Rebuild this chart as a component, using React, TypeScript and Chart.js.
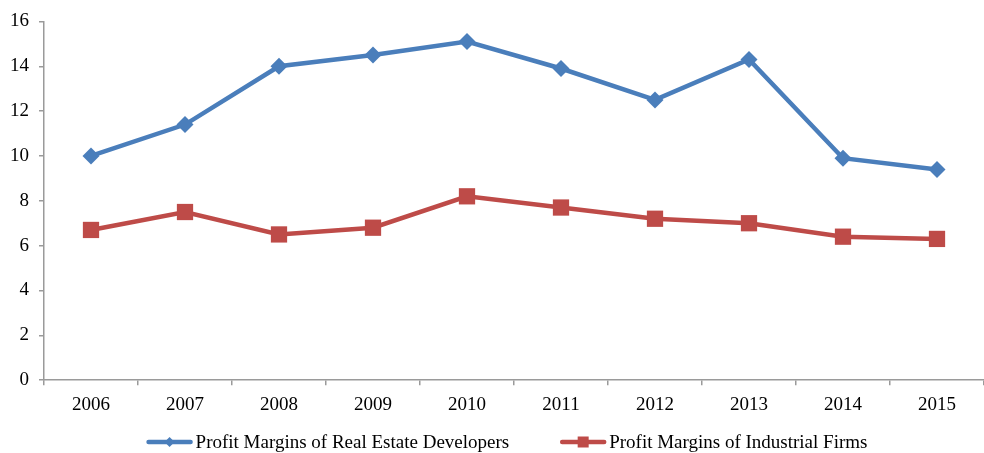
import React, { useEffect, useRef } from "react";
import { Chart, registerables } from "chart.js";

Chart.register(...registerables);

const years = ["2006", "2007", "2008", "2009", "2010", "2011", "2012", "2013", "2014", "2015"];
const realEstate = [10.0, 11.4, 14.0, 14.5, 15.1, 13.9, 12.5, 14.3, 9.9, 9.4];
const industrial = [6.7, 7.5, 6.5, 6.8, 8.2, 7.7, 7.2, 7.0, 6.4, 6.3];
const seriesNames = ["Profit Margins of Real Estate Developers", "Profit Margins of Industrial Firms"];

const BLUE = "#4A7EBB";
const RED = "#BE4B48";
const AXIS = "#9a9a9a";
const FONT = '"Liberation Serif", "Times New Roman", serif';
const FONT_SIZE = 19;

const legendPlugin = {
  id: "customLegend",
  afterDraw(chart: any) {
    const ctx = chart.ctx as CanvasRenderingContext2D;
    ctx.save();
    ctx.font = `${FONT_SIZE}px ${FONT}`;
    const lineLen = 46;
    const gapText = 3;
    const itemGap = 51;
    const items = chart.data.datasets.map((ds: any) => ({ ds, w: ctx.measureText(ds.label).width }));
    const total =
      items.reduce((s: number, it: any) => s + lineLen + gapText + it.w, 0) + itemGap * (items.length - 1);
    let x = (chart.chartArea.left + chart.chartArea.right) / 2 - total / 2 - 7;
    const y = chart.height - 11;
    items.forEach((it: any) => {
      const ds = it.ds;
      ctx.strokeStyle = ds.borderColor;
      ctx.lineWidth = 4.5;
      ctx.lineCap = "round";
      ctx.beginPath();
      ctx.moveTo(x + 2, y);
      ctx.lineTo(x + lineLen - 2, y);
      ctx.stroke();
      const cx = x + lineLen / 2;
      ctx.fillStyle = ds.borderColor;
      ctx.beginPath();
      if (ds.pointStyle === "rectRot") {
        const r = 5;
        ctx.moveTo(cx, y - r);
        ctx.lineTo(cx + r, y);
        ctx.lineTo(cx, y + r);
        ctx.lineTo(cx - r, y);
        ctx.closePath();
      } else {
        const s = 5.5;
        ctx.rect(cx - s, y - s, 2 * s, 2 * s);
      }
      ctx.fill();
      ctx.fillStyle = "#000";
      ctx.textBaseline = "middle";
      ctx.textAlign = "left";
      ctx.fillText(ds.label, x + lineLen + gapText, y + 1);
      x += lineLen + gapText + it.w + itemGap;
    });
    ctx.restore();
  },
};

export default function App() {
  const ref = useRef<HTMLCanvasElement | null>(null);

  useEffect(() => {
    document.body.style.margin = "0";
    if (!ref.current) return;
    const chart = new Chart(ref.current, {
      type: "line",
      data: {
        labels: years,
        datasets: [
          {
            label: seriesNames[0],
            data: realEstate,
            borderColor: BLUE,
            backgroundColor: BLUE,
            borderWidth: 4.5,
            pointStyle: "rectRot",
            pointRadius: 8.5,
            pointHoverRadius: 8.5,
            pointBorderWidth: 0,
            tension: 0,
            clip: false,
          },
          {
            label: seriesNames[1],
            data: industrial,
            borderColor: RED,
            backgroundColor: RED,
            borderWidth: 4.5,
            pointStyle: "rect",
            pointRadius: 11.5,
            pointHoverRadius: 11.5,
            pointBorderWidth: 0,
            tension: 0,
            clip: false,
          },
        ],
      },
      options: {
        responsive: false,
        animation: false,
        devicePixelRatio: 1,
        layout: { autoPadding: false, padding: { left: 0, right: 0, top: 20, bottom: 29 } },
        plugins: {
          legend: { display: false },
          tooltip: { enabled: false },
        },
        scales: {
          x: {
            type: "category",
            offset: true,
            grid: {
              offset: true,
              drawOnChartArea: false,
              drawTicks: true,
              tickLength: 5,
              color: AXIS,
              lineWidth: 1.5,
            },
            border: { color: AXIS, width: 1.5 },
            ticks: {
              color: "#000",
              font: { family: FONT, size: FONT_SIZE },
              padding: 8,
              maxRotation: 0,
              autoSkip: false,
            },
          },
          y: {
            min: 0,
            max: 16,
            grid: {
              drawOnChartArea: false,
              drawTicks: true,
              tickLength: 5,
              color: AXIS,
              lineWidth: 1.5,
            },
            border: { color: AXIS, width: 1.5 },
            ticks: {
              stepSize: 2,
              color: "#000",
              font: { family: FONT, size: FONT_SIZE },
              padding: 10,
            },
          },
        },
      },
      plugins: [legendPlugin],
    });
    return () => chart.destroy();
  }, []);

  return (
    <div style={{ width: 984, height: 453 }}>
      <canvas ref={ref} width={984} height={453} style={{ display: "block" }} />
    </div>
  );
}
